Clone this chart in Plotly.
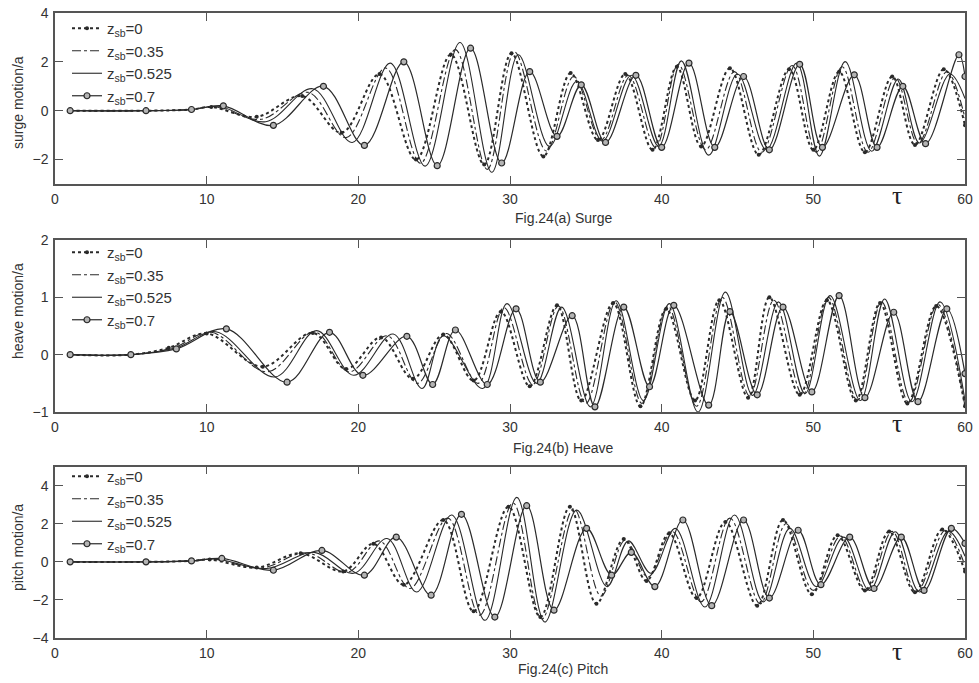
import plotly.graph_objects as go

# ---------------------------------------------------------------
# Time-history data (turning points of each response curve)
# tau values and motion/a values, one pair of lists per case
# ---------------------------------------------------------------
z_labels = ["0", "0.35", "0.525", "0.7"]

# ---- surge ----
surge_t_000 = [1, 6, 9, 10.3, 13.3, 16.3, 18.9, 21.4, 23.8, 26.1, 28.3, 30.1, 32.2, 34.0, 35.8, 37.6, 39.4,
               41.0, 42.6, 44.5, 46.4, 48.4, 50.0, 51.7, 53.4, 55.2, 56.7, 58.6, 60]
surge_v_000 = [0, 0, 0.05, 0.15, -0.25, 0.6, -0.9, 1.5, -2.0, 2.3, -2.2, 2.35, -1.87, 1.54, -1.2, 1.5, -1.6,
               1.8, -1.46, 1.74, -1.8, 1.7, -1.6, 1.6, -1.7, 1.4, -1.4, 1.7, -0.6]
surge_t_035 = [1, 6, 9, 10.5, 13.6, 16.7, 19.2, 21.8, 24.1, 26.4, 28.5, 30.3, 32.4, 34.2, 36.0, 37.8, 39.6,
               41.1, 42.9, 44.8, 46.6, 48.6, 50.2, 51.9, 53.6, 55.4, 56.9, 58.8, 60]
surge_v_035 = [0, 0, 0.05, 0.16, -0.35, 0.75, -1.1, 1.75, -2.15, 2.5, -2.4, 2.4, -1.65, 1.4, -1.2, 1.45, -1.5,
               1.9, -1.6, 1.6, -1.7, 1.85, -1.7, 1.8, -1.7, 1.35, -1.35, 1.6, -0.3]
surge_t_0525 = [1, 6, 9, 10.8, 13.9, 17.0, 19.6, 22.1, 24.4, 26.7, 28.8, 30.55, 32.6, 34.4, 36.1, 38.0, 39.8,
                41.3, 43.1, 45.0, 46.9, 48.9, 50.4, 52.1, 53.85, 55.6, 57.0, 59.0, 60]
surge_v_0525 = [0, 0, 0.05, 0.18, -0.45, 0.9, -1.3, 1.95, -2.27, 2.79, -2.52, 2.29, -1.46, 1.2, -1.25, 1.45, -1.46,
                2.04, -1.82, 1.5, -1.59, 1.95, -1.86, 2.01, -1.66, 1.3, -1.32, 1.5, 0.5]
surge_t_07 = [1, 6, 9, 11.1, 14.4, 17.7, 20.4, 23.0, 25.2, 27.4, 29.45, 31.3, 33.1, 34.7, 36.3, 38.3, 40.0,
              41.8, 43.5, 45.4, 47.1, 49.1, 50.6, 52.7, 54.2, 55.9, 57.4, 59.6, 60]
surge_v_07 = [0, 0, 0.05, 0.2, -0.6, 1.0, -1.42, 2.0, -2.25, 2.56, -2.14, 1.6, -1.05, 1.06, -1.3, 1.45, -1.5,
              1.95, -1.5, 1.4, -1.6, 1.9, -1.5, 1.47, -1.5, 1.0, -1.35, 2.29, 1.4]

# ---- heave ----
heave_t_000 = [1, 5, 7.5, 10.0, 13.7, 17.0, 19.2, 21.5, 23.6, 25.6, 27.6, 29.4, 31.3, 33.1, 34.7, 36.8, 38.6,
               40.3, 42.2, 43.8, 45.7, 47.1, 49.1, 50.9, 52.8, 54.4, 56.2, 58.1, 60]
heave_v_000 = [0, 0, 0.12, 0.37, -0.21, 0.38, -0.25, 0.3, -0.42, 0.35, -0.45, 0.75, -0.55, 0.86, -0.8, 0.9, -0.9,
               0.8, -0.8, 0.95, -0.75, 1.0, -0.7, 0.95, -0.8, 0.9, -0.85, 0.85, -0.9]
heave_t_035 = [1, 5, 7.8, 10.3, 14.0, 17.1, 19.4, 21.9, 23.9, 25.8, 27.9, 29.6, 31.5, 33.2, 35.0, 36.9, 38.7,
               40.4, 42.3, 44.0, 45.8, 47.4, 49.3, 51.0, 52.9, 54.5, 56.3, 58.2, 60]
heave_v_035 = [0, 0, 0.12, 0.39, -0.3, 0.4, -0.3, 0.33, -0.5, 0.37, -0.5, 0.82, -0.52, 0.85, -0.85, 0.92, -0.85,
               0.85, -0.9, 1.0, -0.72, 0.95, -0.7, 1.0, -0.8, 0.92, -0.83, 0.88, -0.9]
heave_t_0525 = [1, 5, 8.0, 10.6, 14.5, 17.25, 19.7, 22.3, 24.2, 25.6, 28.2, 29.8, 31.75, 33.4, 35.3, 37.0, 38.8,
                40.5, 42.4, 44.2, 46.0, 47.7, 49.45, 51.1, 53.1, 54.7, 56.5, 58.35, 60]
heave_v_0525 = [0, 0, 0.12, 0.4, -0.39, 0.42, -0.36, 0.36, -0.59, 0.33, -0.59, 0.89, -0.5, 0.83, -0.91, 0.94, -0.8,
                0.89, -1.0, 1.09, -0.71, 0.92, -0.68, 1.03, -0.8, 0.97, -0.82, 0.92, -0.8]
heave_t_07 = [1, 5, 8.0, 11.3, 15.3, 18.1, 20.3, 23.2, 24.9, 26.4, 28.5, 30.4, 32.0, 34.1, 35.6, 37.5, 39.2,
              40.8, 43.1, 44.5, 46.3, 48.0, 49.9, 51.7, 53.4, 55.3, 56.9, 58.8, 60]
heave_v_07 = [0, 0, 0.1, 0.45, -0.48, 0.39, -0.36, 0.32, -0.52, 0.43, -0.52, 0.8, -0.48, 0.68, -0.91, 0.83, -0.56,
              0.86, -0.88, 0.75, -0.7, 0.83, -0.65, 1.03, -0.75, 0.74, -0.82, 0.8, -0.33]

# ---- pitch ----
pitch_t_000 = [1, 6, 9, 10.2, 13.3, 16.2, 19.0, 21.0, 23.0, 25.6, 27.6, 29.9, 32.0, 33.95, 35.7, 37.5, 39.0,
               40.5, 42.3, 44.2, 46.3, 48.0, 49.9, 51.6, 53.4, 55.0, 56.7, 58.5, 60]
pitch_v_000 = [0, 0, 0.05, 0.12, -0.3, 0.45, -0.5, 0.95, -1.2, 2.2, -2.6, 2.9, -2.9, 2.9, -2.2, 1.2, -1.0,
               1.5, -1.9, 2.1, -2.3, 2.2, -1.7, 1.4, -1.5, 1.6, -1.6, 1.7, -0.5]
pitch_t_035 = [1, 6, 9, 10.4, 13.6, 16.6, 19.3, 21.4, 23.4, 25.9, 28.0, 30.2, 32.1, 34.2, 36.0, 37.6, 39.1,
               40.7, 42.6, 44.5, 46.5, 48.2, 50.0, 51.8, 53.5, 55.2, 56.8, 58.7, 60]
pitch_v_035 = [0, 0, 0.05, 0.14, -0.32, 0.48, -0.55, 1.1, -1.4, 2.3, -2.8, 3.1, -3.0, 2.8, -1.8, 1.15, -0.8,
               1.6, -2.1, 2.3, -2.2, 2.0, -1.5, 1.35, -1.5, 1.6, -1.6, 1.65, -0.2]
pitch_t_0525 = [1, 6, 9, 10.6, 13.95, 17.1, 19.7, 21.9, 23.85, 26.15, 28.35, 30.45, 32.3, 34.4, 36.4, 37.8, 39.3,
                40.9, 42.85, 44.8, 46.7, 48.45, 50.2, 52.0, 53.7, 55.4, 57.0, 58.9, 60]
pitch_v_0525 = [0, 0, 0.05, 0.15, -0.35, 0.5, -0.6, 1.23, -1.58, 2.46, -3.07, 3.39, -3.16, 2.72, -1.3, 1.1, -0.6,
                1.76, -2.37, 2.46, -2.1, 1.76, -1.3, 1.3, -1.5, 1.58, -1.58, 1.6, 0.3]
pitch_t_07 = [1, 6, 9, 11.0, 14.4, 17.6, 20.4, 22.5, 24.8, 26.8, 29.0, 31.1, 32.9, 35.05, 36.7, 38.0, 39.55,
              41.4, 43.3, 45.4, 47.1, 49.0, 50.5, 52.4, 54.0, 55.8, 57.3, 59.1, 60]
pitch_v_07 = [0, 0, 0.05, 0.18, -0.44, 0.6, -0.7, 1.3, -1.75, 2.5, -2.9, 2.95, -2.54, 1.76, -0.7, 0.5, -1.3,
              2.2, -2.3, 2.2, -1.9, 1.66, -1.2, 1.3, -1.4, 1.3, -1.5, 1.76, 0.97]

panels = [
    dict(name="surge", ylabel="surge motion/a", caption="Fig.24(a) Surge",
         series=[(surge_t_000, surge_v_000), (surge_t_035, surge_v_035),
                 (surge_t_0525, surge_v_0525), (surge_t_07, surge_v_07)],
         yrange=[-3, 4], dtick=2, tick0=-2),
    dict(name="heave", ylabel="heave motion/a", caption="Fig.24(b) Heave",
         series=[(heave_t_000, heave_v_000), (heave_t_035, heave_v_035),
                 (heave_t_0525, heave_v_0525), (heave_t_07, heave_v_07)],
         yrange=[-1, 2], dtick=1, tick0=-1),
    dict(name="pitch", ylabel="pitch motion/a", caption="Fig.24(c) Pitch",
         series=[(pitch_t_000, pitch_v_000), (pitch_t_035, pitch_v_035),
                 (pitch_t_0525, pitch_v_0525), (pitch_t_07, pitch_v_07)],
         yrange=[-4, 5], dtick=2, tick0=-4),
]

# ---------------------------------------------------------------
# Layout geometry (paper fractions)
# ---------------------------------------------------------------
W, H = 979, 683
ML, MR, MT, MB = 55, 14, 13, 45
PW, PH = W - ML - MR, H - MT - MB


def px_x(px):
    return (px - ML) / PW


def px_y(py):
    return (H - MB - py) / PH


domains = [(px_y(184), px_y(13)), (px_y(412), px_y(240)), (px_y(638), px_y(466.7))]
legend_tops = [12, 236, 460]
ylabel_y = [103, 311, 548]
caption_y = [218, 448, 669]
tau_y = [196, 423, 651]

INK = "#2a2a2a"
FONT = "Liberation Sans, Arial, Helvetica, sans-serif"
TXT = dict(family=FONT, size=14, color="#333333")

styles = [
    dict(mode="lines+markers", line=dict(color=INK, width=2, dash="dot", shape="spline"),
         marker=dict(symbol="circle", size=4, color=INK)),
    dict(mode="lines", line=dict(color=INK, width=1.1, dash="dashdot", shape="spline")),
    dict(mode="lines", line=dict(color=INK, width=1.1, shape="spline")),
    dict(mode="lines+markers", line=dict(color=INK, width=1.2, shape="spline"),
         marker=dict(symbol="circle", size=6, color="#b4b4b4", line=dict(color=INK, width=1.2))),
]

fig = go.Figure()
layout = dict(
    width=W, height=H,
    margin=dict(l=ML, r=MR, t=MT, b=MB, autoexpand=False),
    paper_bgcolor="white", plot_bgcolor="white",
    font=TXT,
    annotations=[],
)

for i, p in enumerate(panels):
    k = "" if i == 0 else str(i + 1)
    xa, ya = "x" + k, "y" + k
    leg = "legend" + k
    for j, (t, v) in enumerate(p["series"]):
        fig.add_trace(go.Scatter(
            x=t, y=v, xaxis=xa, yaxis=ya, legend=leg,
            name="z<sub>sb</sub>=" + z_labels[j],
            **styles[j]))
    axis_common = dict(showline=True, linecolor="#555555", linewidth=1.5, mirror="ticks",
                       ticks="inside", ticklen=8, tickcolor="#555555", tickwidth=1.2,
                       showgrid=False, zeroline=False, automargin=False,
                       tickfont=TXT)
    layout["xaxis" + k] = dict(domain=[0, 1], anchor=ya, range=[0, 60], dtick=10, tick0=0,
                               ticklabelstandoff=1, **axis_common)
    layout["yaxis" + k] = dict(domain=list(domains[i]), anchor=xa, range=p["yrange"],
                               dtick=p["dtick"], tick0=p["tick0"], ticklabelstandoff=2,
                               **axis_common)
    layout[leg] = dict(x=px_x(67), y=px_y(legend_tops[i]), xanchor="left", yanchor="top",
                       bgcolor="rgba(0,0,0,0)", borderwidth=0,
                       font=dict(family=FONT, size=15, color="#333333"),
                       tracegroupgap=0)
    layout["annotations"] += [
        dict(text=p["ylabel"], xref="paper", yref="paper", x=px_x(18), y=px_y(ylabel_y[i]),
             xanchor="center", yanchor="middle",
             textangle=-90, showarrow=False, font=TXT),
        dict(text=p["caption"], xref="paper", yref="paper", x=px_x(563), y=px_y(caption_y[i]),
             xanchor="center", yanchor="middle", showarrow=False, font=TXT),
        dict(text="τ", xref="paper", yref="paper", x=px_x(897), y=px_y(tau_y[i]),
             xanchor="center", yanchor="middle",
             showarrow=False, font=dict(family="Liberation Serif, DejaVu Serif, serif", size=26,
                                        color="#222222")),
    ]

fig.update_layout(**layout)
fig.write_html("out.html")
